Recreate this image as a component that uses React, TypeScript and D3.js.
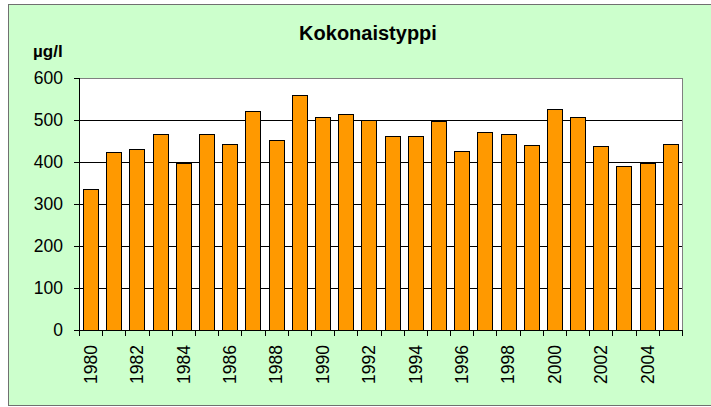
import React from "react";
import * as d3 from "d3";

const years = [
  "1980","1981","1982","1983","1984","1985","1986","1987","1988","1989",
  "1990","1991","1992","1993","1994","1995","1996","1997","1998","1999",
  "2000","2001","2002","2003","2004","2005",
];
const values = [
  335, 423, 432, 467, 397, 467, 444, 521, 452, 559,
  506, 515, 499, 461, 461, 497, 427, 471, 467, 441,
  527, 508, 439, 391, 397, 444,
];
const yTicks = [0, 100, 200, 300, 400, 500, 600];
const title = "Kokonaistyppi";
const unit = "µg/l";

const W = 711;
const H = 407;
const left = 79;
const right = 682;
const top = 78;
const bottom = 330;
const font = "'Liberation Sans', Arial, sans-serif";

export default function App() {
  const x = d3.scaleBand<string>().domain(years).range([left, right]).paddingInner(0.35).paddingOuter(0.175);
  const xb = d3.scaleBand<string>().domain(years).range([left, right]);
  const y = d3.scaleLinear().domain([0, 600]).range([bottom, top]);
  const step = xb.step();

  return (
    <svg
      width={W}
      height={H}
      style={{ position: "absolute", left: 0, top: 0, background: "#fff" }}
      fontFamily={font}
    >
      <rect x={8.5} y={4.5} width={W + 10} height={401} fill="#CCFFCC" stroke="#707070" strokeWidth={1} />
      <rect x={left} y={top} width={right - left} height={bottom - top} fill="#fff" />
      {yTicks.filter((t) => t > 0).map((t) => (
        <line key={"g" + t} x1={left} x2={right} y1={Math.round(y(t)) + 0.5} y2={Math.round(y(t)) + 0.5} stroke="#000" strokeWidth={1} />
      ))}
      <line x1={right + 0.5} x2={right + 0.5} y1={top} y2={bottom} stroke="#808080" />
      <line x1={left} x2={right} y1={top + 0.5} y2={top + 0.5} stroke="#808080" />
      {values.map((v, i) => (
        <rect
          key={years[i]}
          x={Math.round(x(years[i])!) + 0.5}
          y={Math.round(y(v)) + 0.5}
          width={Math.round(x.bandwidth())}
          height={bottom - Math.round(y(v))}
          fill="#FF9900"
          stroke="#000"
          strokeWidth={1}
        />
      ))}
      {/* y axis */}
      <line x1={left + 0.5} x2={left + 0.5} y1={top} y2={bottom + 0.5} stroke="#000" />
      {yTicks.map((t) => (
        <g key={"y" + t}>
          <line x1={left - 5} x2={left} y1={Math.round(y(t)) + 0.5} y2={Math.round(y(t)) + 0.5} stroke="#000" />
          <text x={63} y={y(t)} dy="0.36em" textAnchor="end" fontSize={17.5} fill="#000">
            {t}
          </text>
        </g>
      ))}
      {/* x axis */}
      <line x1={left} x2={right + 1} y1={bottom + 0.5} y2={bottom + 0.5} stroke="#000" />
      {years.map((yr, i) => (
        <line key={"t" + yr} x1={Math.round(left + i * step) + 0.5} x2={Math.round(left + i * step) + 0.5} y1={bottom} y2={bottom + 6} stroke="#000" />
      ))}
      <line x1={right + 0.5} x2={right + 0.5} y1={bottom} y2={bottom + 6} stroke="#000" />
      {years.map((yr, i) =>
        i % 2 === 0 ? (
          <text
            key={"l" + yr}
            transform={`translate(${xb(yr)! + step / 2},345) rotate(-90)`}
            textAnchor="end"
            dy="0.36em"
            fontSize={17.5}
            fill="#000"
          >
            {yr}
          </text>
        ) : null
      )}
      <text x={368} y={40} textAnchor="middle" fontSize={20} fontWeight="bold" fill="#000">
        {title}
      </text>
      <text x={33} y={57} fontSize={17} fontWeight="bold" fill="#000">
        {unit}
      </text>
    </svg>
  );
}
